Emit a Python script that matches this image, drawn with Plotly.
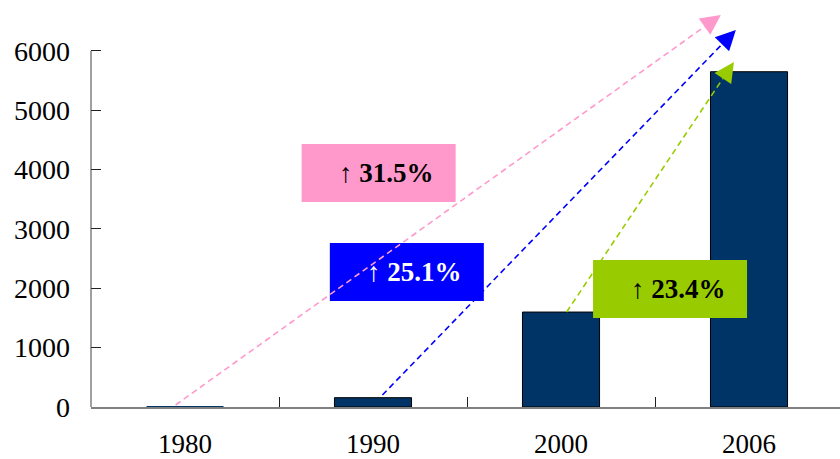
import math
import plotly.graph_objects as go

# Annual figures by year
years = ["1980", "1990", "2000", "2006"]
values = [4.6, 157, 1600, 5650]
y_ticks = [0, 1000, 2000, 3000, 4000, 5000, 6000]

# Average annual growth call-outs
growth_labels = ["↑ 31.5%", "↑ 25.1%", "↑ 23.4%"]
growth_colors = ["#FF99CC", "#0000FF", "#99CC00"]
growth_text_colors = ["black", "white", "black"]
label_x = [1.03, 1.18, 2.58]
label_y = [3944, 2275, 1989]

# Trend arrows: from a base year up past the 2006 bar
arrow_x0 = [-0.05, 1.05, 2.03]
arrow_y0 = [34, 202, 1601]
arrow_x1 = [2.85, 2.93, 2.92]
arrow_y1 = [6607, 6354, 5815]

W, H = 840, 459
ML, MR, MT, MB = 91, 0, 10, 52
Y_MAX = 6690
X_RANGE = [-0.5, 3.484]
sx = (W - ML - MR) / (X_RANGE[1] - X_RANGE[0])
sy = (H - MT - MB) / Y_MAX

FONT = "Liberation Serif"

fig = go.Figure()
fig.add_trace(go.Bar(
    x=years, y=values, width=0.41,
    marker=dict(color="#003366",
                line=dict(color="black", width=[0 if v < 20 else 1 for v in values])),
))

shapes = []
annotations = []

# y axis line only up to the top tick
shapes.append(dict(type="line", xref="paper", yref="y", x0=0, x1=0,
                   y0=0, y1=y_ticks[-1], line=dict(color="#404040", width=1)))

# coloured label boxes
for cx, cy, col in zip(label_x, label_y, growth_colors):
    shapes.append(dict(type="rect", xref="x", yref="y",
                       xsizemode="pixel", ysizemode="pixel",
                       xanchor=cx, yanchor=cy, x0=-77, x1=77, y0=-29, y1=29,
                       fillcolor=col, line=dict(width=0)))

# dashed trend lines with arrow heads
HEAD = 20
for x0, y0, x1, y1, col in zip(arrow_x0, arrow_y0, arrow_x1, arrow_y1, growth_colors):
    dxp = (x1 - x0) * sx
    dyp = (y1 - y0) * sy
    L = math.hypot(dxp, dyp)
    ux, uy = dxp / L, dyp / L
    # stop the dashes at the base of the head
    ex = x1 - ux * HEAD / sx
    ey = y1 - uy * HEAD / sy
    shapes.append(dict(type="line", xref="x", yref="y", x0=x0, y0=y0, x1=ex, y1=ey,
                       line=dict(color=col, width=1.6, dash="6px,4px")))
    annotations.append(dict(x=x1, y=y1, xref="x", yref="y", text="",
                            showarrow=True, arrowhead=2, arrowsize=2.5, arrowwidth=1.6,
                            arrowcolor=col, standoff=0,
                            ax=-ux * HEAD, ay=uy * HEAD))

for cx, cy, txt, tc in zip(label_x, label_y, growth_labels, growth_text_colors):
    annotations.append(dict(x=cx, y=cy, xref="x", yref="y", text="<b>" + txt + "</b>",
                            showarrow=False, xshift=8,
                            font=dict(family=FONT, size=27, color=tc)))

fig.update_layout(
    width=W, height=H,
    margin=dict(l=ML, r=MR, t=MT, b=MB, autoexpand=False),
    paper_bgcolor="white", plot_bgcolor="white",
    showlegend=False,
    shapes=shapes, annotations=annotations,
    font=dict(family=FONT, size=27, color="black"),
    xaxis=dict(
        type="category", range=X_RANGE, automargin=False,
        showline=True, linecolor="#808080", linewidth=2,
        ticks="inside", tickson="boundaries", ticklen=10, tickcolor="#202020",
        showgrid=False, ticklabelstandoff=12,
        tickfont=dict(family=FONT, size=27, color="black"),
    ),
    yaxis=dict(
        range=[0, Y_MAX], tickvals=y_ticks, automargin=False,
        showline=False, showgrid=False, zeroline=False,
        ticks="inside", ticklen=10, tickcolor="#202020",
        ticklabelstandoff=20,
        tickfont=dict(family=FONT, size=28, color="black"),
    ),
)

fig.write_html("out.html")
